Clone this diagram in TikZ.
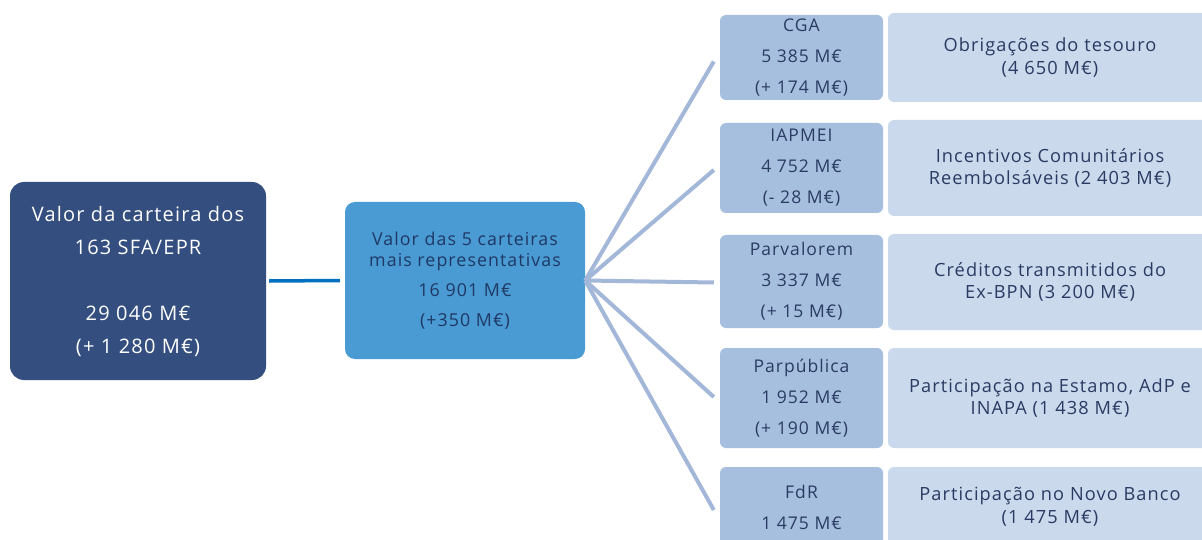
\documentclass[tikz,border=0pt]{standalone}
\usepackage{fontspec}
\setmainfont[LetterSpace=6]{Open Sans}
\definecolor{darkbox}{HTML}{334E7F}
\definecolor{linkblue}{HTML}{0070C0}
\definecolor{midbox}{HTML}{4A9BD4}
\definecolor{midtext}{HTML}{1F3864}
\definecolor{colA}{HTML}{A7BFDE}
\definecolor{colB}{HTML}{CAD9EC}
\definecolor{fanline}{HTML}{A3B7D8}
\definecolor{rtext}{HTML}{2A3B63}
\begin{document}
\begin{tikzpicture}[x=1pt,y=-1pt,
  basebox/.style={inner sep=0pt, align=center},
  darkstyle/.style={basebox, fill=darkbox, text=white, rounded corners=14pt,
    minimum width=256pt, minimum height=198pt, font=\fontsize{20}{33}\selectfont},
  midstyle/.style={basebox, fill=midbox, text=midtext, rounded corners=10pt,
    minimum width=240pt, minimum height=157pt, font=\fontsize{17.8}{21}\selectfont},
  entbox/.style={basebox, fill=colA, text=rtext, rounded corners=6pt,
    minimum width=163pt, font=\fontsize{17.5}{31}\selectfont},
  descbox/.style={basebox, fill=colB, text=rtext, rounded corners=6pt,
    minimum width=324pt, font=\fontsize{18.2}{22.5}\selectfont},
  fan/.style={draw=fanline, line width=4pt},
  link/.style={draw=linkblue, line width=3.5pt}]
\useasboundingbox (0,0) rectangle (1202,540);
\clip (0,0) rectangle (1202,540);
\fill[white] (0,0) rectangle (1202,540);

\node[darkstyle] (dark) at (138,281) {Valor da carteira dos\\163 SFA/EPR\\[33pt]29 046 M€\\(+ 1 280 M€)};
\node[midstyle] (mid) at (465,280.5) {Valor das 5 carteiras\\mais representativas\\[9pt]16 901 M€\\[9pt](+350 M€)};

\node[entbox, minimum height=85pt] (cga) at (801.5,57.5) {CGA\\5 385 M€\\(+ 174 M€)};
\node[entbox, minimum height=90pt] (iap) at (801.5,168) {IAPMEI\\4 752 M€\\(- 28 M€)};
\node[entbox, minimum height=93pt] (parv) at (801.5,281.5) {Parvalorem\\3 337 M€\\(+ 15 M€)};
\node[entbox, minimum height=100pt] (parp) at (801.5,398) {Parpública\\1 952 M€\\(+ 190 M€)};
\node[entbox, minimum height=80pt] (fdr) at (801.5,507) {FdR\\1 475 M€};

\node[descbox, minimum height=89pt] (cgad) at (1050,57.5) {Obrigações do tesouro\\(4 650 M€)};
\node[descbox, minimum height=96pt] (iapd) at (1050,168) {Incentivos Comunitários\\Reembolsáveis (2 403 M€)};
\node[descbox, minimum height=96pt] (parvd) at (1050,282) {Créditos transmitidos do\\Ex-BPN (3 200 M€)};
\node[descbox, minimum height=100pt] (parpd) at (1050,398) {Participação na Estamo, AdP e\\INAPA (1 438 M€)};
\node[descbox, minimum height=80pt] (fdrd) at (1050,507) {Participação no Novo Banco\\(1 475 M€)};

\draw[link] ([xshift=3pt]dark.east) -- ([xshift=-5pt]mid.west);

\draw[fan] (mid.east) -- ([xshift=-6pt,yshift=-4pt]cga.west);
\draw[fan] (mid.east) -- ([xshift=-6pt,yshift=-2pt]iap.west);
\draw[fan] (mid.east) -- ([xshift=-6pt,yshift=-1pt]parv.west);
\draw[fan] (mid.east) -- ([xshift=-6pt,yshift=1pt]parp.west);
\draw[fan] (mid.east) -- ([xshift=-6pt,yshift=-3pt]fdr.west);
\end{tikzpicture}
\end{document}
